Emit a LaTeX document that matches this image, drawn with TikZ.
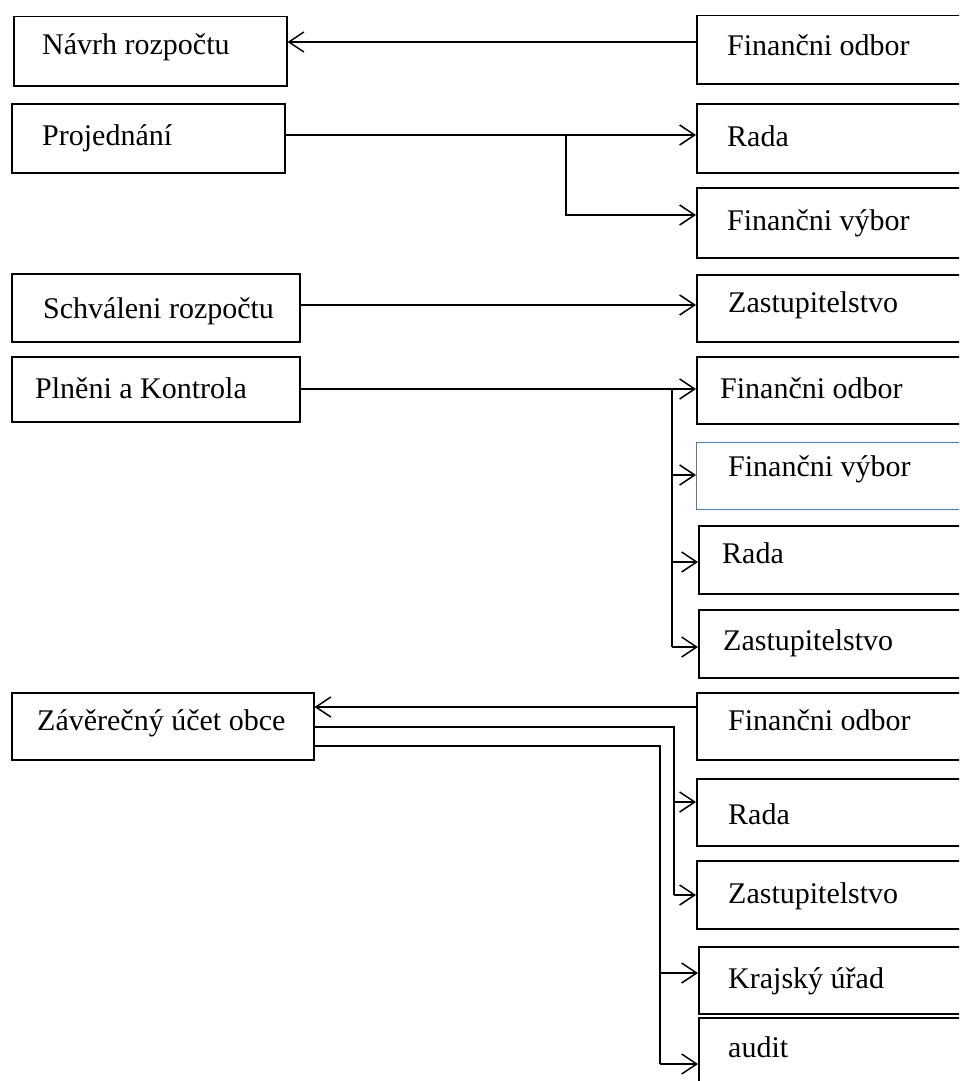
\documentclass[tikz,border=0pt]{standalone}
\usepackage{fontspec}
\setmainfont{Liberation Serif}
\usetikzlibrary{arrows.meta}
\definecolor{boxblue}{RGB}{80,120,180}
\begin{document}
\begin{tikzpicture}[x=1pt,y=-1pt,
  box/.style={draw=black,line width=1.5pt,anchor=north west,inner sep=0pt},
  bluebox/.style={box,draw=boxblue,line width=1pt},
  txt/.style={anchor=base west,inner sep=0pt,font=\fontsize{30}{34}\selectfont},
  con/.style={line width=1.5pt},
  arr/.style={con,-{Straight Barb[length=15pt,width=20pt,line width=1.5pt]}}]
\useasboundingbox (0,0) rectangle (959,1081);
\clip (0,0) rectangle (959,1081);
% left boxes
\node[box,minimum width=273pt,minimum height=69pt] (navrh) at (13,16) {};
\node[box,minimum width=273pt,minimum height=69pt] (proj) at (11,103) {};
\node[box,minimum width=288pt,minimum height=68pt] (schval) at (11,273) {};
\node[box,minimum width=288pt,minimum height=65pt] (plneni) at (11,356) {};
\node[box,minimum width=302pt,minimum height=67pt] (zaver) at (11,692) {};
% right boxes
\node[box,minimum width=280pt,minimum height=68pt] (fo1) at (696,15) {};
\node[box,minimum width=280pt,minimum height=69pt] (rada1) at (696,103) {};
\node[box,minimum width=280pt,minimum height=70pt] (fv1) at (696,187) {};
\node[box,minimum width=280pt,minimum height=67pt] (zast1) at (696,274) {};
\node[box,minimum width=280pt,minimum height=67pt] (fo2) at (696,356) {};
\node[bluebox,minimum width=280pt,minimum height=67pt] (fv2) at (696,442) {};
\node[box,minimum width=280pt,minimum height=68pt] (rada2) at (698,525) {};
\node[box,minimum width=280pt,minimum height=68pt] (zast2) at (698,609) {};
\node[box,minimum width=280pt,minimum height=67pt] (fo3) at (696,692) {};
\node[box,minimum width=280pt,minimum height=67pt] (rada3) at (696,778) {};
\node[box,minimum width=280pt,minimum height=68pt] (zast3) at (696,860) {};
\node[box,minimum width=280pt,minimum height=67pt] (kraj) at (698,946) {};
\node[box,minimum width=280pt,minimum height=80pt] (audit) at (698,1017) {};
% texts
\node[txt] (tnavrh) at (42,55) {Návrh rozpočtu};
\node[txt] (tproj) at (42,145) {Projednání};
\node[txt] (tschval) at (43,318) {Schváleni rozpočtu};
\node[txt] (tplneni) at (35,398) {Plněni a Kontrola};
\node[txt] (tzaver) at (37,730) {Závěrečný účet obce};
\node[txt] (tfo1) at (727,56) {Finančni odbor};
\node[txt] (trada1) at (727,146) {Rada};
\node[txt] (tfv1) at (727,230) {Finančni výbor};
\node[txt] (tzast1) at (728,312) {Zastupitelstvo};
\node[txt] (tfo2) at (720,398) {Finančni odbor};
\node[txt] (tfv2) at (728,476) {Finančni výbor};
\node[txt] (trada2) at (722,563) {Rada};
\node[txt] (tzast2) at (723,650) {Zastupitelstvo};
\node[txt] (tfo3) at (728,730) {Finančni odbor};
\node[txt] (trada3) at (728,824) {Rada};
\node[txt] (tzast3) at (728,903) {Zastupitelstvo};
\node[txt] (tkraj) at (728,988) {Krajský úřad};
\node[txt] (taudit) at (728,1057) {audit};
% junction coordinates
\coordinate (y1) at (0,42);
\coordinate (b1) at (566,135);
\coordinate (b1e) at (566,215);
\coordinate (y3) at (0,305);
\coordinate (b4) at (672,389);
\coordinate (b4a) at (672,475);
\coordinate (b4b) at (672,562);
\coordinate (b4c) at (672,647);
\coordinate (y5) at (0,707);
\coordinate (b5) at (674,727);
\coordinate (b5a) at (674,802);
\coordinate (b5b) at (674,895);
\coordinate (b6) at (660,746);
\coordinate (b6a) at (660,973);
\coordinate (b6b) at (660,1064);
% connectors
\draw[arr] (fo1.west |- y1) -- (navrh.east |- y1);
\draw[arr] (proj.east |- b1) -- (rada1.west |- b1);
\draw[arr] (b1) |- (fv1.west |- b1e);
\draw[arr] (schval.east |- y3) -- (zast1.west |- y3);
\draw[arr] (plneni.east |- b4) -- (fo2.west |- b4);
\draw[con] (b4) -- (b4c);
\draw[arr] (b4a) -- (fv2.west |- b4a);
\draw[arr] (b4b) -- (rada2.west |- b4b);
\draw[arr] (b4c) -- (zast2.west |- b4c);
\draw[arr] (fo3.west |- y5) -- (zaver.east |- y5);
\draw[con] (zaver.east |- b5) -- (b5) -- (b5b);
\draw[arr] (b5a) -- (rada3.west |- b5a);
\draw[arr] (b5b) -- (zast3.west |- b5b);
\draw[con] (zaver.east |- b6) -- (b6) -- (b6b);
\draw[arr] (b6a) -- (kraj.west |- b6a);
\draw[arr] (b6b) -- (audit.west |- b6b);
\end{tikzpicture}
\end{document}
